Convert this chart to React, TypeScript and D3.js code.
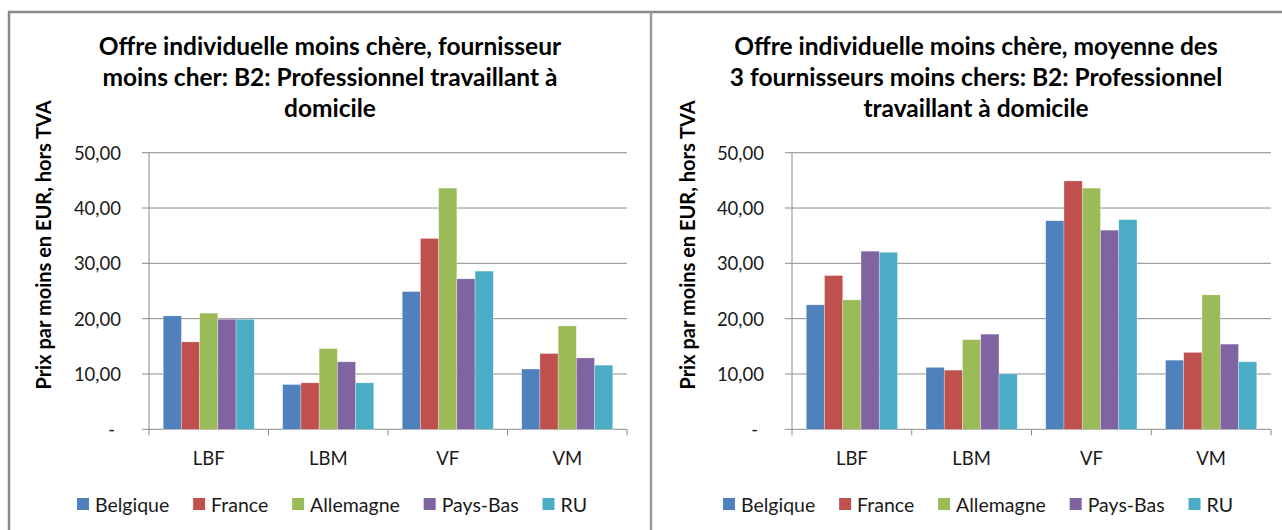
import React from "react";
import * as d3 from "d3";

const categories = ["LBF", "LBM", "VF", "VM"];
const countries = ["Belgique", "France", "Allemagne", "Pays-Bas", "RU"];
const colors = ["#4F81BD", "#C0504D", "#9BBB59", "#8064A2", "#4BACC6"];
const yTicks = [0, 10, 20, 30, 40, 50];

// values[country][category]
const leftValues = [
  [20.5, 8.1, 24.9, 10.9],
  [15.8, 8.4, 34.5, 13.7],
  [21.0, 14.6, 43.6, 18.7],
  [19.9, 12.2, 27.2, 12.9],
  [19.9, 8.4, 28.6, 11.6],
];
const rightValues = [
  [22.5, 11.2, 37.7, 12.5],
  [27.8, 10.7, 44.9, 13.9],
  [23.4, 16.2, 43.6, 24.3],
  [32.2, 17.2, 36.0, 15.4],
  [32.0, 10.0, 37.9, 12.2],
];
const leftTitle = [
  "Offre individuelle moins chère, fournisseur",
  "moins cher: B2: Professionnel travaillant à",
  "domicile",
];
const rightTitle = [
  "Offre individuelle moins chère, moyenne des",
  "3 fournisseurs moins chers: B2: Professionnel",
  "travaillant à domicile",
];
const yTitle = "Prix par moins en EUR, hors TVA";

const FONT = "Lato, 'Open Sans', sans-serif";

function measure(text: string, font: string) {
  const c = document.createElement("canvas").getContext("2d")!;
  c.font = font;
  return c.measureText(text).width;
}

function fmt(v: number) {
  return v === 0 ? "-" : d3.format(".2f")(v).replace(".", ",");
}

type PanelProps = {
  x0: number;
  x1: number;
  values: number[][];
  title: string[];
  titleX: number;
  yTitleX: number;
};

function Panel({ x0, x1, values, title, titleX, yTitleX }: PanelProps) {
  const yTop = 152.7;
  const yBot = 429.3;
  const y = d3.scaleLinear().domain([0, 50]).range([yBot, yTop]);
  const xb = d3.scaleBand().domain(categories).range([x0, x1]).padding(0);
  const bw = xb.bandwidth();
  const gap = bw * 0.119;
  const xi = d3.scaleBand().domain(countries).range([gap, bw - gap]).padding(0);

  const legendFont = `19.5px ${FONT}`;
  const sq = 12;
  const sqGap = 6;
  const widths = countries.map((c) => sq + sqGap + measure(c, legendFont));
  const totalTarget = 510;
  const itemGap = (totalTarget - d3.sum(widths)) / (countries.length - 1);
  const legendCenter = titleX + 2;
  let cx = legendCenter - totalTarget / 2;
  const legendPos = widths.map((w) => {
    const p = cx;
    cx += w + itemGap;
    return p;
  });

  return (
    <g>
      {title.map((t, i) => (
        <text
          key={i}
          x={titleX}
          y={55 + i * 31}
          textAnchor="middle"
          fontFamily={FONT}
          fontWeight="bold"
          fontSize={24.5}
          fill="#000"
        >
          {t}
        </text>
      ))}
      <text
        transform={`translate(${yTitleX},245) rotate(-90)`}
        textAnchor="middle"
        dominantBaseline="middle"
        fontFamily={FONT}
        fontWeight="bold"
        fontSize={20}
        fill="#000"
      >
        {yTitle}
      </text>
      {yTicks.map((t) => (
        <g key={t}>
          <line x1={x0 - 7} x2={x1} y1={y(t)} y2={y(t)} stroke="#8c8c8c" strokeWidth={1} />
          <text
            x={t === 0 ? x0 - 34 : x0 - 28}
            y={y(t)}
            textAnchor="end"
            dominantBaseline="central"
            fontFamily={FONT}
            fontSize={18.5}
            fill="#1a1a1a"
          >
            {fmt(t)}
          </text>
        </g>
      ))}
      <line x1={x0} x2={x0} y1={yTop} y2={yBot + 6} stroke="#8c8c8c" strokeWidth={1} />
      {categories.map((c, ci) => (
        <g key={c}>
          <line
            x1={xb(c)! + bw}
            x2={xb(c)! + bw}
            y1={yBot}
            y2={yBot + 6}
            stroke="#8c8c8c"
            strokeWidth={1}
          />
          <text
            x={xb(c)! + bw / 2}
            y={458}
            textAnchor="middle"
            dominantBaseline="central"
            fontFamily={FONT}
            fontSize={18.5}
            fill="#1a1a1a"
          >
            {c}
          </text>
          {countries.map((k, ki) => (
            <rect
              key={k}
              x={xb(c)! + xi(k)!}
              y={y(values[ki][ci])}
              width={xi.bandwidth()}
              height={yBot - y(values[ki][ci])}
              fill={colors[ki]}
              stroke="#ffffff"
              strokeOpacity={0.5}
              strokeWidth={0.6}
            />
          ))}
        </g>
      ))}
      {countries.map((k, ki) => (
        <g key={k}>
          <rect x={legendPos[ki]} y={498} width={sq} height={sq} fill={colors[ki]} />
          <text
            x={legendPos[ki] + sq + sqGap}
            y={504}
            dominantBaseline="central"
            fontFamily={FONT}
            fontSize={19.5}
            fill="#1a1a1a"
          >
            {k}
          </text>
        </g>
      ))}
    </g>
  );
}

export default function App() {
  return (
    <svg
      width={1282}
      height={530}
      style={{ position: "absolute", left: 0, top: 0, background: "#fff" }}
    >
      <rect x={0} y={0} width={1282} height={530} fill="#fff" />
      <Panel
        x0={149}
        x1={627}
        values={leftValues}
        title={leftTitle}
        titleX={330}
        yTitleX={46}
      />
      <Panel
        x0={792}
        x1={1271}
        values={rightValues}
        title={rightTitle}
        titleX={976}
        yTitleX={690}
      />
      <path d="M9,530 V12 H1282" fill="none" stroke="#8a8a8a" strokeWidth={2.5} />
      <line x1={651} x2={651} y1={12} y2={530} stroke="#9a9a9a" strokeWidth={2.5} />
    </svg>
  );
}
